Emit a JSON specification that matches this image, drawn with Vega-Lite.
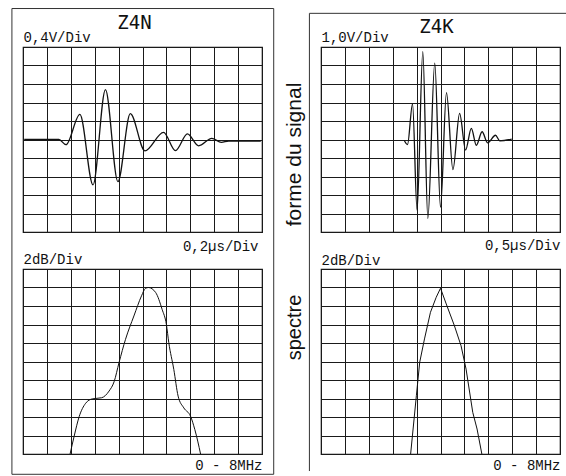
{
  "$schema": "https://vega.github.io/schema/vega-lite/v6.json",
  "background": "white",
  "padding": {"left": 10, "top": 7, "right": 0, "bottom": 0},
  "autosize": {"type": "pad"},
  "bounds": "flush",
  "columns": 2,
  "spacing": {"row": 37, "column": 59},
  "config": {
    "font": "Liberation Sans",
    "view": {"stroke": "#111", "strokeWidth": 1.2},
    "axis": {"labels": false, "ticks": false, "domain": false, "grid": true, "gridColor": "#1a1a1a", "gridOpacity": 1, "gridWidth": 1, "titleFont": "Liberation Mono", "titleFontSize": 14, "titleFontWeight": "normal", "titleColor": "#111"}
  },
  "concat": [
    {
      "width": 239, "height": 185,
      "title": {"text": "Z4N", "font": "DejaVu Sans Mono", "fontSize": 19, "fontWeight": "normal", "color": "#111", "anchor": "middle", "frame": "group", "dx": -8, "baseline": "alphabetic", "offset": -18},
      "data": {"values": [{"t":0.05,"v":0},{"t":1.5,"v":0},{"t":1.8,"v":-0.28},{"t":2.38,"v":1.36},{"t":2.93,"v":-2.45},{"t":3.45,"v":2.7},{"t":3.97,"v":-2.28},{"t":4.49,"v":1.4},{"t":5.1,"v":-0.61},{"t":5.88,"v":0.39},{"t":6.38,"v":-0.6},{"t":6.88,"v":0.3},{"t":7.35,"v":-0.34},{"t":7.9,"v":0.06},{"t":8.3,"v":-0.15},{"t":8.6,"v":-0.08},{"t":9.95,"v":-0.08}]},
      "mark": {"type": "line", "interpolate": "monotone", "color": "#111", "strokeWidth": 1.3},
      "encoding": {
        "x": {"field": "t", "type": "quantitative", "scale": {"domain": [0, 10], "nice": false, "zero": false},
              "axis": {"orient": "bottom", "values": [0,1,2,3,4,5,6,7,8,9,10], "title": "0,2µs/Div", "titleX": 235, "titleY": 18, "titleAlign": "right", "titleBaseline": "alphabetic"}},
        "y": {"field": "v", "type": "quantitative", "scale": {"domain": [-5, 5], "nice": false, "zero": false},
              "axis": {"values": [-5,-4,-3,-2,-1,0,1,2,3,4,5], "title": "0,4V/Div", "titleAngle": 0, "titleX": 0, "titleY": -6, "titleAlign": "left", "titleBaseline": "alphabetic"}}
      }
    },
    {
      "width": 239, "height": 185,
      "title": {"text": "Z4K", "font": "DejaVu Sans Mono", "fontSize": 19, "fontWeight": "normal", "color": "#111", "anchor": "middle", "frame": "group", "dx": -4, "baseline": "alphabetic", "offset": -39},
      "layer": [
        {
          "data": {"values": [{"t":3.48,"v":-0.04},{"t":3.62,"v":-0.27},{"t":3.83,"v":1.93},{"t":4.02,"v":-3.83},{"t":4.26,"v":4.75},{"t":4.47,"v":-4.26},{"t":4.76,"v":4.13},{"t":5.0,"v":-3.66},{"t":5.25,"v":2.53},{"t":5.52,"v":-1.63},{"t":5.8,"v":1.41},{"t":6.05,"v":-0.57},{"t":6.29,"v":0.6},{"t":6.5,"v":-0.31},{"t":6.74,"v":0.42},{"t":6.97,"v":-0.18},{"t":7.3,"v":0.23},{"t":7.48,"v":-0.07},{"t":7.98,"v":0.02}]},
          "mark": {"type": "line", "interpolate": "monotone", "color": "#111", "strokeWidth": 1.3},
          "encoding": {
            "x": {"field": "t", "type": "quantitative", "scale": {"domain": [0, 10], "nice": false, "zero": false},
                  "axis": {"orient": "bottom", "values": [0,1,2,3,4,5,6,7,8,9,10], "title": "0,5µs/Div", "titleX": 239, "titleY": 17, "titleAlign": "right", "titleBaseline": "alphabetic"}},
            "y": {"field": "v", "type": "quantitative", "scale": {"domain": [-5, 5], "nice": false, "zero": false},
                  "axis": {"values": [-5,-4,-3,-2,-1,0,1,2,3,4,5], "title": "forme du signal", "titleFont": "Liberation Sans", "titleFontSize": 21, "titleAngle": -90, "titleX": -21, "titleY": 107, "titleAlign": "center", "titleBaseline": "alphabetic"}}
          }
        },
        {
          "data": {"values": [{}]},
          "mark": {"type": "rule", "color": "#333", "strokeWidth": 1},
          "encoding": {
            "x": {"datum": -0.485, "type": "quantitative", "scale": {"domain": [0, 10], "nice": false, "zero": false},
                  "axis": {"orient": "top", "grid": false, "title": "1,0V/Div", "titleX": 0, "titleY": -6, "titleAlign": "left", "titleBaseline": "alphabetic"}},
            "x2": {"datum": 10.27},
            "y": {"datum": 6.82, "type": "quantitative", "scale": {"domain": [-5, 5], "nice": false, "zero": false},
                  "axis": {"values": [-5,-4,-3,-2,-1,0,1,2,3,4,5], "title": "forme du signal", "titleFont": "Liberation Sans", "titleFontSize": 21, "titleAngle": -90, "titleX": -21, "titleY": 107, "titleAlign": "center", "titleBaseline": "alphabetic"}}
          }
        }
      ]
    },
    {
      "width": 239, "height": 185,
      "layer": [
        {
          "data": {"values": [{"f":1.97,"d":0},{"f":2.14,"d":0.96},{"f":2.35,"d":2.02},{"f":2.62,"d":2.74},{"f":2.9,"d":2.98},{"f":3.29,"d":3.04},{"f":3.6,"d":3.4},{"f":3.81,"d":3.9},{"f":4.02,"d":4.95},{"f":4.29,"d":6.2},{"f":4.64,"d":7.46},{"f":4.96,"d":8.55},{"f":5.12,"d":8.95},{"f":5.25,"d":9.0},{"f":5.55,"d":8.73},{"f":5.82,"d":7.82},{"f":6.0,"d":7.0},{"f":6.1,"d":6.02},{"f":6.31,"d":4.57},{"f":6.49,"d":3.13},{"f":6.73,"d":2.49},{"f":7.01,"d":2.04},{"f":7.19,"d":1.32},{"f":7.43,"d":0}]},
          "mark": {"type": "line", "interpolate": "monotone", "color": "#111", "strokeWidth": 1},
          "encoding": {
            "x": {"field": "f", "type": "quantitative", "scale": {"domain": [0, 10], "nice": false, "zero": false},
                  "axis": {"orient": "bottom", "values": [0,1,2,3,4,5,6,7,8,9,10], "title": "0 - 8MHz", "titleX": 239, "titleY": 15, "titleAlign": "right", "titleBaseline": "alphabetic"}},
            "y": {"field": "d", "type": "quantitative", "scale": {"domain": [0, 10], "nice": false, "zero": false},
                  "axis": {"values": [0,1,2,3,4,5,6,7,8,9,10], "title": "2dB/Div", "titleAngle": 0, "titleX": 0, "titleY": -6, "titleAlign": "left", "titleBaseline": "alphabetic"}}
          }
        },
        {
          "data": {"values": [{}]},
          "mark": {"type": "rect", "filled": false, "color": "#333", "strokeWidth": 1},
          "encoding": {
            "x": {"datum": -0.464, "type": "quantitative", "scale": {"domain": [0, 10], "nice": false, "zero": false},
                  "axis": {"orient": "bottom", "values": [0,1,2,3,4,5,6,7,8,9,10], "title": "0 - 8MHz", "titleX": 239, "titleY": 15, "titleAlign": "right", "titleBaseline": "alphabetic"}},
            "x2": {"datum": 10.49},
            "y": {"datum": 24.08, "type": "quantitative", "scale": {"domain": [0, 10], "nice": false, "zero": false},
                  "axis": {"values": [0,1,2,3,4,5,6,7,8,9,10], "title": "2dB/Div", "titleAngle": 0, "titleX": 0, "titleY": -6, "titleAlign": "left", "titleBaseline": "alphabetic"}},
            "y2": {"datum": -1.097}
          }
        }
      ]
    },
    {
      "width": 239, "height": 185,
      "layer": [
        {
          "data": {"values": [{"f":3.75,"d":0},{"f":3.99,"d":3.15},{"f":4.13,"d":4.96},{"f":4.33,"d":6.22},{"f":4.58,"d":7.66},{"f":4.82,"d":8.47},{"f":5.0,"d":8.96},{"f":5.24,"d":8.11},{"f":5.58,"d":6.94},{"f":5.86,"d":5.85},{"f":6.07,"d":4.59},{"f":6.35,"d":2.25},{"f":6.53,"d":1.35},{"f":6.73,"d":0}]},
          "mark": {"type": "line", "color": "#111", "strokeWidth": 1},
          "encoding": {
            "x": {"field": "f", "type": "quantitative", "scale": {"domain": [0, 10], "nice": false, "zero": false},
                  "axis": {"orient": "bottom", "values": [0,1,2,3,4,5,6,7,8,9,10], "title": "0 - 8MHz", "titleX": 239, "titleY": 15, "titleAlign": "right", "titleBaseline": "alphabetic"}},
            "y": {"field": "d", "type": "quantitative", "scale": {"domain": [0, 10], "nice": false, "zero": false},
                  "axis": {"values": [0,1,2,3,4,5,6,7,8,9,10], "title": "spectre", "titleFont": "Liberation Sans", "titleFontSize": 20, "titleAngle": -90, "titleX": -21, "titleY": 58, "titleAlign": "center", "titleBaseline": "alphabetic"}}
          }
        },
        {
          "data": {"values": [{}]},
          "mark": {"type": "rule", "color": "#333", "strokeWidth": 1},
          "encoding": {
            "x": {"datum": -0.485, "type": "quantitative", "scale": {"domain": [0, 10], "nice": false, "zero": false},
                  "axis": {"orient": "top", "grid": false, "title": "2dB/Div", "titleX": 0, "titleY": -5, "titleAlign": "left", "titleBaseline": "alphabetic"}},
            "y": {"datum": 23.82, "type": "quantitative", "scale": {"domain": [0, 10], "nice": false, "zero": false},
                  "axis": {"values": [0,1,2,3,4,5,6,7,8,9,10], "title": "spectre", "titleFont": "Liberation Sans", "titleFontSize": 20, "titleAngle": -90, "titleX": -21, "titleY": 58, "titleAlign": "center", "titleBaseline": "alphabetic"}},
            "y2": {"datum": -0.92}
          }
        }
      ]
    }
  ]
}
